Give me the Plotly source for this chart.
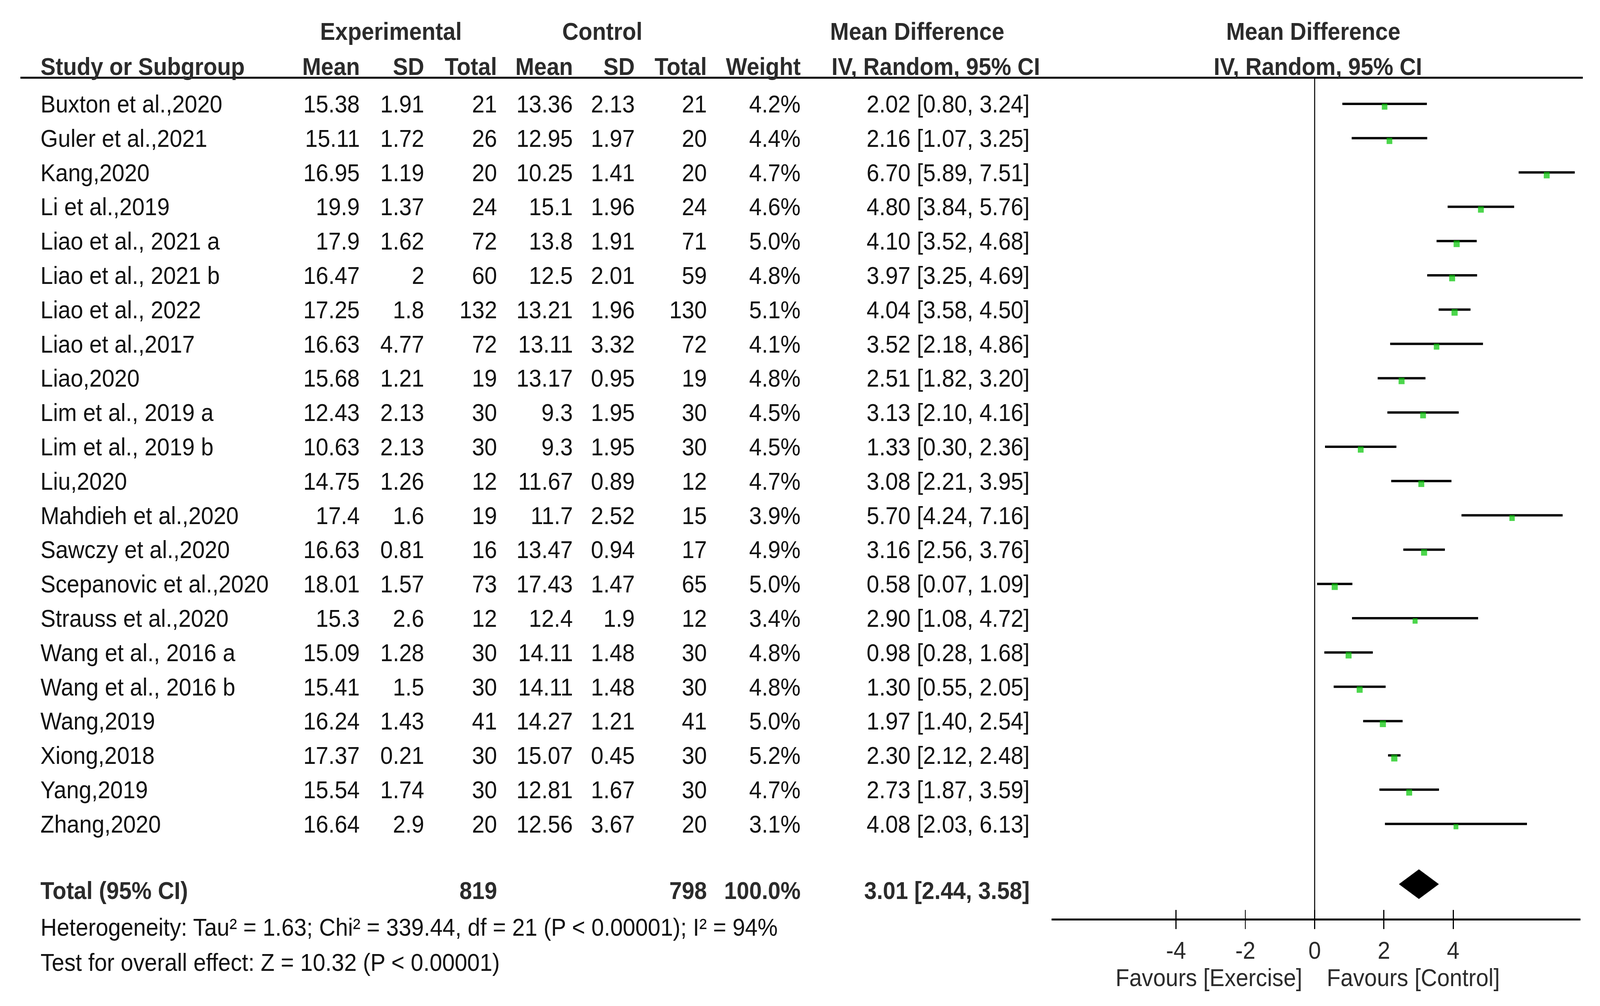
import numpy as np
import plotly.graph_objects as go

# ---------------- data ----------------
studies = ["Buxton et al.,2020", "Guler et al.,2021", "Kang,2020", "Li et al.,2019",
           "Liao et al., 2021 a", "Liao et al., 2021 b", "Liao et al., 2022", "Liao et al.,2017",
           "Liao,2020", "Lim et al., 2019 a", "Lim et al., 2019 b", "Liu,2020",
           "Mahdieh et al.,2020", "Sawczy et al.,2020", "Scepanovic et al.,2020", "Strauss et al.,2020",
           "Wang et al., 2016 a", "Wang et al., 2016 b", "Wang,2019", "Xiong,2018",
           "Yang,2019", "Zhang,2020"]
exp_mean = [15.38, 15.11, 16.95, 19.9, 17.9, 16.47, 17.25, 16.63, 15.68, 12.43, 10.63, 14.75,
            17.4, 16.63, 18.01, 15.3, 15.09, 15.41, 16.24, 17.37, 15.54, 16.64]
exp_sd = [1.91, 1.72, 1.19, 1.37, 1.62, 2, 1.8, 4.77, 1.21, 2.13, 2.13, 1.26,
          1.6, 0.81, 1.57, 2.6, 1.28, 1.5, 1.43, 0.21, 1.74, 2.9]
exp_n = [21, 26, 20, 24, 72, 60, 132, 72, 19, 30, 30, 12, 19, 16, 73, 12, 30, 30, 41, 30, 30, 20]
ctl_mean = [13.36, 12.95, 10.25, 15.1, 13.8, 12.5, 13.21, 13.11, 13.17, 9.3, 9.3, 11.67,
            11.7, 13.47, 17.43, 12.4, 14.11, 14.11, 14.27, 15.07, 12.81, 12.56]
ctl_sd = [2.13, 1.97, 1.41, 1.96, 1.91, 2.01, 1.96, 3.32, 0.95, 1.95, 1.95, 0.89,
          2.52, 0.94, 1.47, 1.9, 1.48, 1.48, 1.21, 0.45, 1.67, 3.67]
ctl_n = [21, 20, 20, 24, 71, 59, 130, 72, 19, 30, 30, 12, 15, 17, 65, 12, 30, 30, 41, 30, 30, 20]
weight = [4.2, 4.4, 4.7, 4.6, 5.0, 4.8, 5.1, 4.1, 4.8, 4.5, 4.5, 4.7,
          3.9, 4.9, 5.0, 3.4, 4.8, 4.8, 5.0, 5.2, 4.7, 3.1]
md = [2.02, 2.16, 6.70, 4.80, 4.10, 3.97, 4.04, 3.52, 2.51, 3.13, 1.33, 3.08,
      5.70, 3.16, 0.58, 2.90, 0.98, 1.30, 1.97, 2.30, 2.73, 4.08]
ci_lo = [0.80, 1.07, 5.89, 3.84, 3.52, 3.25, 3.58, 2.18, 1.82, 2.10, 0.30, 2.21,
         4.24, 2.56, 0.07, 1.08, 0.28, 0.55, 1.40, 2.12, 1.87, 2.03]
ci_hi = [3.24, 3.25, 7.51, 5.76, 4.68, 4.69, 4.50, 4.86, 3.20, 4.16, 2.36, 3.95,
         7.16, 3.76, 1.09, 4.72, 1.68, 2.05, 2.54, 2.48, 3.59, 6.13]

total_label = "Total (95% CI)"
total_exp_n = 819
total_ctl_n = 798
total_weight = 100.0
total_md = 3.01
total_lo = 2.44
total_hi = 3.58

heterogeneity_text = "Heterogeneity: Tau² = 1.63; Chi² = 339.44, df = 21 (P < 0.00001); I² = 94%"
overall_text = "Test for overall effect: Z = 10.32 (P < 0.00001)"

tick_vals = [-4, -2, 0, 2, 4]
tick_text = ["-4", "-2", "0", "2", "4"]
favours_left = "Favours [Exercise]"
favours_right = "Favours [Control]"

# ---------------- layout constants ----------------
W, H = 4468, 2576
FONT = "Liberation Sans, Arial, sans-serif"
FS = 63
TXT = "#111111"
HDR = "#2b2b2b"
GREEN = "#00C400"

ROW0 = 266.0      # pixel centre of first row
ROWH = 87.8       # pixel spacing of rows
Y_TOP = 199.0     # header rule / top of plotting area
Y_AX = 2352.0     # axis line
X_L, X_R = 2936.0, 4413.0
SQUARE_DROP = 7.0 / ROWH   # squares sit slightly below their CI line

def px(x):
    return x / W

def py(y):
    return 1 - y / H

def row_of(p):
    return (p - ROW0) / ROWH

idx = list(range(len(studies)))
total_text_row = row_of(2280)
diamond_row = row_of(2264)
diamond_half = 37.5 / ROWH

md_a = np.array(md)
lo_a = np.array(ci_lo)
hi_a = np.array(ci_hi)
sizes = 17 * np.sqrt(np.array(weight) / 5.0)

fig = go.Figure()

# study CIs (lines only)
fig.add_trace(go.Scatter(
    x=md, y=idx, mode="markers",
    marker=dict(size=1, opacity=0),
    error_x=dict(type="data", symmetric=False, array=hi_a - md_a, arrayminus=md_a - lo_a,
                 thickness=6, width=0, color="black"),
    hoverinfo="skip", showlegend=False,
))
# study squares on top
fig.add_trace(go.Scatter(
    x=md, y=np.array(idx) + SQUARE_DROP, mode="markers",
    marker=dict(symbol="square", size=sizes, color=GREEN, line=dict(width=0)),
    hoverinfo="skip", showlegend=False,
))

# pooled diamond
fig.add_trace(go.Scatter(
    x=[total_lo, total_md, total_hi, total_md, total_lo],
    y=[diamond_row, diamond_row - diamond_half, diamond_row, diamond_row + diamond_half, diamond_row],
    mode="lines", fill="toself", fillcolor="black", line=dict(color="black", width=1),
    hoverinfo="skip", showlegend=False,
))

# invisible trace to activate the overlay axis (upward tick halves)
fig.add_trace(go.Scatter(
    x=md, y=idx, xaxis="x2", mode="markers", marker=dict(opacity=0),
    hoverinfo="skip", showlegend=False,
))

ann = []

def add_text(x, y, text, anchor="left", yref="paper", bold=False, color=TXT, size=FS):
    ann.append(dict(
        x=px(x), y=y, xref="paper", yref=yref, text=text, showarrow=False,
        xanchor=anchor, yanchor="middle",
        font=dict(family=FONT, size=size, color=color, weight="bold" if bold else "normal"),
    ))

# column positions (pixel)
C_STUDY = 111
C_EMEAN, C_ESD, C_EN = 1007, 1187, 1390
C_CMEAN, C_CSD, C_CN = 1602, 1775, 1976
C_W = 2238
C_CI = 2877

# headers
h1 = py(80)
h2 = py(170)
add_text(1092, h1, "Experimental", "center", bold=True, color=HDR)
add_text(1682, h1, "Control", "center", bold=True, color=HDR)
add_text(2561, h1, "Mean Difference", "center", bold=True, color=HDR)
add_text(3667, h1, "Mean Difference", "center", bold=True, color=HDR)
add_text(C_STUDY, h2, "Study or Subgroup", "left", bold=True, color=HDR)
for x, t in [(C_EMEAN, "Mean"), (C_ESD, "SD"), (C_EN, "Total"), (C_CMEAN, "Mean"),
             (C_CSD, "SD"), (C_CN, "Total"), (C_W, "Weight")]:
    add_text(x, h2, t, "right", bold=True, color=HDR)
add_text(2613, h2, "IV, Random, 95% CI", "center", bold=True, color=HDR)
add_text(3680, h2, "IV, Random, 95% CI", "center", bold=True, color=HDR)

# study rows
for i, s in enumerate(studies):
    add_text(C_STUDY, i, s, "left", yref="y")
    add_text(C_EMEAN, i, f"{exp_mean[i]:g}", "right", yref="y")
    add_text(C_ESD, i, f"{exp_sd[i]:g}", "right", yref="y")
    add_text(C_EN, i, f"{exp_n[i]}", "right", yref="y")
    add_text(C_CMEAN, i, f"{ctl_mean[i]:g}", "right", yref="y")
    add_text(C_CSD, i, f"{ctl_sd[i]:g}", "right", yref="y")
    add_text(C_CN, i, f"{ctl_n[i]}", "right", yref="y")
    add_text(C_W, i, f"{weight[i]:.1f}%", "right", yref="y")
    add_text(C_CI, i, f"{md[i]:.2f} [{ci_lo[i]:.2f}, {ci_hi[i]:.2f}]", "right", yref="y")

# total row
tr = total_text_row
add_text(C_STUDY, tr, total_label, "left", yref="y", bold=True, color=HDR)
add_text(C_EN, tr, f"{total_exp_n}", "right", yref="y", bold=True, color=HDR)
add_text(C_CN, tr, f"{total_ctl_n}", "right", yref="y", bold=True, color=HDR)
add_text(C_W, tr, f"{total_weight:.1f}%", "right", yref="y", bold=True, color=HDR)
add_text(C_CI, tr, f"{total_md:.2f} [{total_lo:.2f}, {total_hi:.2f}]", "right", yref="y", bold=True, color=HDR)

add_text(C_STUDY, py(2374), heterogeneity_text, "left")
add_text(C_STUDY, py(2464), overall_text, "left")

add_text(3639, py(2503), favours_left, "right", color=HDR)
add_text(3703, py(2503), favours_right, "left", color=HDR)

x_range = [-7.60, 7.67]
dom_x = [px(X_L), px(X_R)]
dom_y = [py(Y_AX), py(Y_TOP)]

fig.update_layout(
    width=W, height=H,
    margin=dict(l=0, r=0, t=0, b=0),
    paper_bgcolor="white", plot_bgcolor="white",
    showlegend=False,
    annotations=ann,
    shapes=[dict(type="line", xref="paper", yref="paper",
                 x0=px(57), x1=px(4420), y0=py(Y_TOP), y1=py(Y_TOP),
                 line=dict(color="black", width=5))],
    xaxis=dict(
        domain=dom_x, range=x_range, anchor="y",
        showgrid=False, zeroline=True, zerolinecolor="#222222", zerolinewidth=3,
        showline=True, linecolor="black", linewidth=5,
        ticks="outside", ticklen=22, tickwidth=3, tickcolor="black",
        tickvals=tick_vals, ticktext=tick_text,
        tickfont=dict(family=FONT, size=FS, color=HDR),
        fixedrange=True,
    ),
    xaxis2=dict(
        domain=dom_x, range=x_range, anchor="y", overlaying="x", matches="x",
        showgrid=False, zeroline=False, showline=False,
        ticks="inside", ticklen=22, tickwidth=3, tickcolor="black",
        tickvals=tick_vals, showticklabels=False,
    ),
    yaxis=dict(
        domain=dom_y, range=[row_of(Y_AX), row_of(Y_TOP)],
        showgrid=False, zeroline=False, showline=False, showticklabels=False, ticks="",
        fixedrange=True,
    ),
)

# stretch the fixed-size figure so it fills the whole browser viewport
post = """
(function(){
  var gd = document.getElementById('{plot_id}');
  document.documentElement.style.margin = '0';
  document.documentElement.style.overflow = 'hidden';
  document.body.style.margin = '0';
  document.body.style.overflow = 'hidden';
  var sx = window.innerWidth / %d;
  var sy = window.innerHeight / %d;
  gd.style.transformOrigin = '0 0';
  gd.style.transform = 'scale(' + sx + ',' + sy + ')';
})();
""" % (W, H)

fig.write_html("out.html", post_script=post, config={"displayModeBar": False})
